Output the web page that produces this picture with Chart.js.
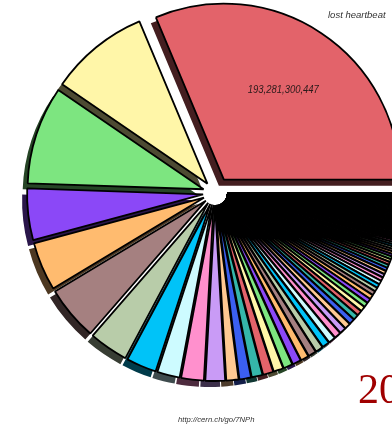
<!DOCTYPE html>
<html>
<head>
<meta charset="utf-8">
<script src="https://cdn.jsdelivr.net/npm/chart.js@4.4.1/dist/chart.umd.min.js"></script>
<style>
  html, body { margin: 0; padding: 0; background: #fff; overflow: hidden; }
  #wrap { position: relative; width: 392px; height: 428px; overflow: hidden; }
  #myChart { position: absolute; left: 0; top: 0; }
  .note { position: absolute; white-space: nowrap; font-family: "Liberation Sans", Arial, sans-serif; font-style: italic; color: #333; }
  #topNote { left: 328px; top: 9px; font-size: 9.5px; line-height: 11px; }
  #url { left: 178px; top: 415px; font-size: 7.7px; line-height: 10px; }
  #year { left: 358px; top: 368px; font-family: "Liberation Serif", "DejaVu Serif", serif; font-style: normal; color: #a00000; font-size: 42px; line-height: 42px; }
</style>
</head>
<body>
<div id="wrap">
  <canvas id="myChart" width="392" height="428"></canvas>
  <div class="note" id="topNote">lost heartbeat</div>
  <div class="note" id="url">http://cern.ch/go/7NPh</div>
  <div class="note" id="year">20</div>
</div>
<script>
"use strict";

//region Data
// biggest entries, counter-clockwise from 3 o'clock
let mainLabels=["lost heartbeat","entry 2","entry 3","entry 4","entry 5","entry 6","entry 7","entry 8","entry 9","entry 10","entry 11"];
let mainValues=[193281300447, 56.4e9, 55.6e9, 29.1e9, 27.4e9, 30.8e9, 22.2e9, 17.1e9, 12.8e9, 12.8e9, 11.1e9];

// the long tail of small entries
let tailValues=[
    6.90e9, 6.60e9, 6.10e9, 5.80e9, 5.50e9, 5.20e9, 4.85e9, 4.55e9, 4.45e9, 4.28e9, 4.10e9, 3.93e9, 3.76e9, 3.59e9,
    3.33e9, 3.16e9, 2.99e9, 2.82e9, 2.73e9, 2.65e9, 2.48e9, 2.39e9, 2.30e9, 2.22e9, 2.13e9, 2.05e9, 1.96e9, 1.88e9,
    1.88e9, 1.80e9, 1.71e9, 1.62e9, 1.54e9, 1.45e9, 1.37e9, 1.33e9, 1.28e9, 1.23e9, 1.20e9, 1.16e9, 1.11e9, 1.06e9,
    0.66e9, 0.64e9, 0.62e9, 0.60e9, 0.58e9, 0.56e9, 0.54e9, 0.52e9, 0.50e9, 0.48e9, 0.46e9, 0.44e9, 0.42e9, 0.40e9,
    0.40e9, 0.40e9, 0.39e9, 0.39e9, 0.38e9, 0.38e9, 0.37e9, 0.37e9, 0.36e9, 0.36e9, 0.35e9, 0.35e9, 0.34e9, 0.34e9,
    0.33e9, 0.33e9, 0.32e9, 0.32e9, 0.31e9, 0.31e9, 0.30e9, 0.30e9, 0.29e9, 0.29e9, 0.28e9, 0.28e9, 0.27e9, 0.27e9,
    0.26e9, 0.26e9, 0.25e9, 0.25e9, 0.24e9, 0.24e9, 0.23e9, 0.23e9, 0.22e9, 0.22e9, 0.21e9, 0.21e9, 0.20e9, 0.20e9,
    0.20e9, 0.19e9, 0.19e9, 0.18e9, 0.18e9, 0.17e9, 0.17e9, 0.16e9, 0.16e9, 0.15e9, 0.15e9, 0.14e9, 0.14e9, 0.13e9,
    0.13e9, 0.12e9, 0.12e9, 0.11e9, 0.11e9, 0.10e9, 0.10e9, 0.09e9, 0.09e9, 0.08e9, 0.08e9, 0.07e9, 0.07e9, 0.06e9,
    0.06e9, 0.05e9, 0.05e9, 0.05e9, 0.04e9, 0.04e9, 0.04e9, 0.03e9, 0.03e9, 0.03e9, 0.03e9, 0.02e9, 0.02e9, 0.02e9
];

let palette=["#e3636a","#fff6a8","#7de580","#8b48f7","#ffbb6f","#a58080","#b8cca9",
             "#00c3f8","#cdfbff","#ff90cd","#c99bf6","#ffc992","#3b5ff0","#35b6aa"];
//endregion

//region Style
let explodeMain=16;   // pixels the big slice is pulled out
let explodeOther=12;  // pixels every other slice is pulled out
let shadowDx=-5;
let shadowDy=6;
//endregion

//region Main
let labels=mainLabels.slice();
let values=mainValues.concat(tailValues);
for(let i=labels.length;i<values.length;i++)
{
    labels.push("entry "+(i+1));
}
let colors=values.map(function(v,i){ return palette[i%palette.length]; });

// Chart.js goes clockwise, the original goes counter-clockwise
let chartLabels=labels.slice().reverse();
let chartValues=values.slice().reverse();
let chartColors=colors.slice().reverse();

function darken(hex)
{
    let r=parseInt(hex.substr(1,2),16), g=parseInt(hex.substr(3,2),16), b=parseInt(hex.substr(5,2),16);
    return "rgb("+Math.round(r*0.3)+","+Math.round(g*0.3)+","+Math.round(b*0.3)+")";
}

function explodeOf(chart,i)
{
    return chart.data.labels[i]===mainLabels[0] ? explodeMain : explodeOther;
}

let explodePlugin={
    id:"explode",
    beforeDatasetDraw: function(chart,args) {
        let ctx=chart.ctx;
        let arcs=args.meta.data;
        let pass=function(shadow) {
            arcs.forEach(function(arc,i) {
                let d=explodeOf(chart,i);
                let mid=(arc.startAngle+arc.endAngle)/2;
                ctx.save();
                ctx.translate(Math.cos(mid)*d+(shadow?shadowDx:0), Math.sin(mid)*d+(shadow?shadowDy:0));
                if(shadow)
                {
                    let keep=arc.options;
                    let c=darken(keep.backgroundColor);
                    arc.options=Object.assign({},keep,{backgroundColor:c,borderColor:c,borderWidth:0});
                    arc.draw(ctx);
                    arc.options=keep;
                }
                else
                {
                    arc.draw(ctx);
                }
                ctx.restore();
            });
        };
        pass(true);
        pass(false);
        return false;
    }
};

let valuePlugin={
    id:"valueLabel",
    afterDatasetsDraw: function(chart) {
        let ctx=chart.ctx;
        let meta=chart.getDatasetMeta(0);
        let i=chart.data.labels.indexOf(mainLabels[0]);
        let arc=meta.data[i];
        let mid=(arc.startAngle+arc.endAngle)/2;
        let d=explodeOf(chart,i)+arc.outerRadius*0.61;
        let x=arc.x+Math.cos(mid)*d;
        let y=arc.y+Math.sin(mid)*d;
        ctx.save();
        ctx.translate(x,y);
        ctx.scale(0.86,1);
        ctx.font="italic 11px 'Liberation Sans', Arial, sans-serif";
        ctx.fillStyle="#2a1a1a";
        ctx.textAlign="center";
        ctx.textBaseline="middle";
        ctx.fillText(chart.data.datasets[0].data[i].toLocaleString("en-US"),0,0);
        ctx.restore();
    }
};

let myChart=new Chart(document.getElementById("myChart"),{
    type:"pie",
    data:{
        labels:chartLabels,
        datasets:[{
            data:chartValues,
            backgroundColor:chartColors,
            borderColor:"#000",
            borderWidth:1.8,
            clip:false
        }]
    },
    options:{
        responsive:false,
        animation:false,
        rotation:90,
        radius:176,
        layout:{padding:{left:38,right:0,top:0,bottom:42}},
        plugins:{legend:{display:false},tooltip:{enabled:false}}
    },
    plugins:[explodePlugin,valuePlugin]
});
//endregion
</script>
</body>
</html>
